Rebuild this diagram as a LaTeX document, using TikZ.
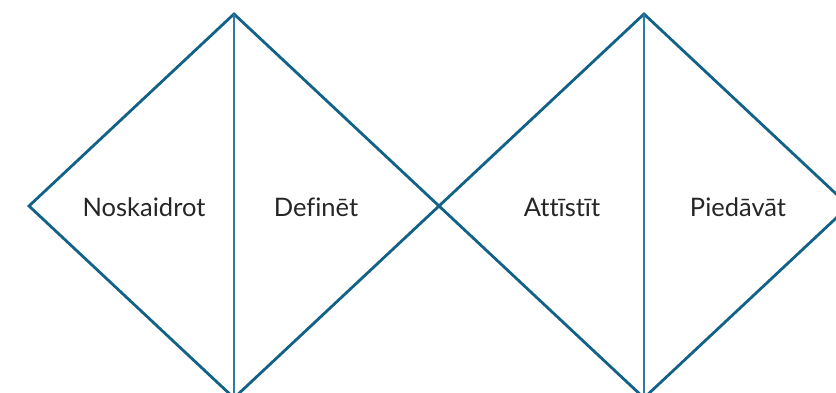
\documentclass[tikz,border=0pt]{standalone}
\usepackage{fontspec}
\setmainfont{Lato}[Ligatures=NoCommon]
\usepackage{tikz}
\usetikzlibrary{positioning, shapes.geometric}
\usepackage{xcolor}
\definecolor{edgeBlue}{RGB}{18, 98, 136}
\definecolor{splitBlue}{RGB}{44, 124, 164}

\begin{document}
\begin{tikzpicture}[x=1pt, y=-1pt, font=\fontsize{25.5}{30}\selectfont,
  phase/.style={diamond, draw=edgeBlue, line width=2.8pt, outer sep=0pt,
    inner sep=0pt, minimum width=410pt, minimum height=384pt},
  split/.style={draw=splitBlue, line width=1.8pt},
  word/.style={text=black!85, anchor=center}]
  \useasboundingbox (0,0) rectangle (836,393);
  \clip (0,0) rectangle (836,393);

  % discover and define
  \node[phase] (d1) at (234,206) {};
  \draw[split] (d1.north) -- (d1.south);
  \node[word] (discover) at (144,207) {Noskaidrot};
  \node[word] (define) at (316,207) {Definēt};

  % develop and deliver
  \node[phase] (d2) at (644,206) {};
  \draw[split] (d2.north) -- (d2.south);
  \node[word] (develop) at (562,207) {Attīstīt};
  \node[word] (deliver) at (738,207) {Piedāvāt};
\end{tikzpicture}
\end{document}
